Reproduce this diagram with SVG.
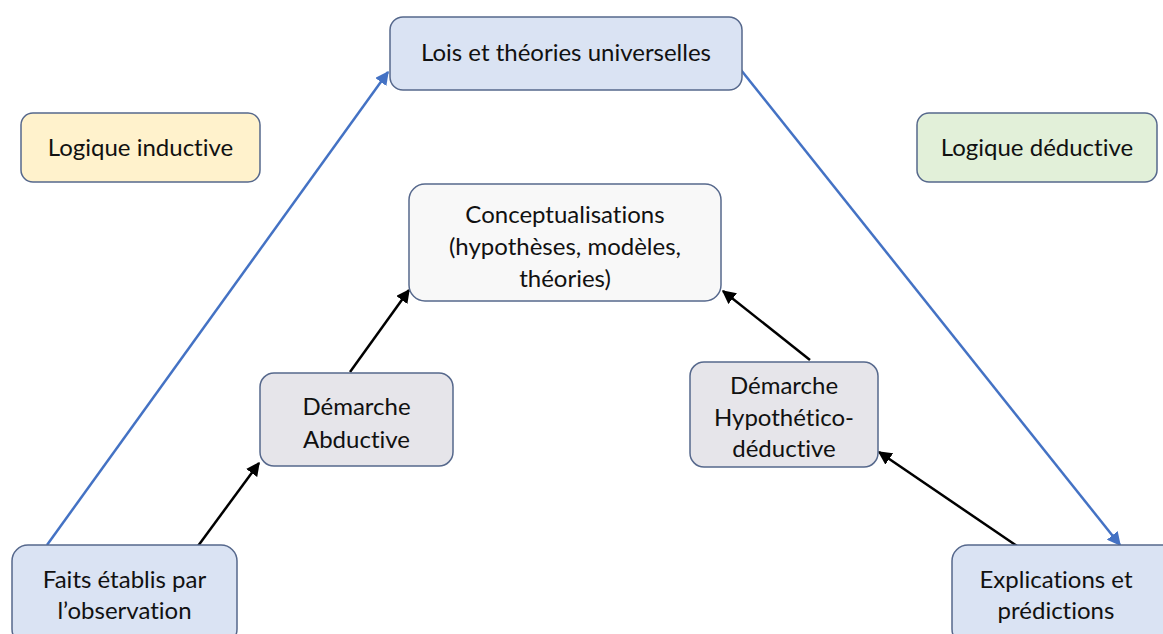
<svg xmlns="http://www.w3.org/2000/svg" width="1163" height="634" viewBox="0 0 1163 634">
<defs>
<style>
.box{stroke:#56688c;stroke-width:1.5}
.blue{fill:#dae3f3}
.yel{fill:#fff2cc}
.grn{fill:#e2f0d9}
.gry{fill:#e6e5ea}
.wht{fill:#f8f8f8}
text{font-family:Lato,"Liberation Sans",sans-serif;font-size:24px;fill:#111;text-anchor:middle;font-variant-ligatures:none}
.bl{stroke:#4472c4;stroke-width:2.5;fill:none}
.bk{stroke:#000;stroke-width:2.5;fill:none}
</style>
<marker id="ab" viewBox="0 0 10 10" refX="9" refY="5" markerWidth="5.5" markerHeight="5.5" orient="auto" markerUnits="strokeWidth"><path d="M0,0L10,5L0,10z" fill="#4472c4"/></marker>
<marker id="ak" viewBox="0 0 10 10" refX="9" refY="5" markerWidth="5.5" markerHeight="5.5" orient="auto" markerUnits="strokeWidth"><path d="M0,0L10,5L0,10z" fill="#000"/></marker>
</defs>
<g id="connectors">
<line class="bl" x1="47" y1="545" x2="388" y2="72" marker-end="url(#ab)"/>
<line class="bl" x1="741" y1="70" x2="1120" y2="545" marker-end="url(#ab)"/>
<line class="bk" x1="198" y1="546" x2="259" y2="463" marker-end="url(#ak)"/>
<line class="bk" x1="350" y1="372" x2="409" y2="290" marker-end="url(#ak)"/>
<line class="bk" x1="810" y1="360" x2="723" y2="291" marker-end="url(#ak)"/>
<line class="bk" x1="1017" y1="546" x2="879" y2="452" marker-end="url(#ak)"/>
</g>
<g id="lois"><rect class="box blue" x="390" y="17" width="352" height="73" rx="13"/><text x="566" y="61">Lois et théories universelles</text></g>
<g id="inductive"><rect class="box yel" x="21" y="113" width="239" height="69" rx="12"/><text x="140.5" y="156">Logique inductive</text></g>
<g id="deductive"><rect class="box grn" x="917" y="113" width="240" height="69" rx="12"/><text x="1037" y="156">Logique déductive</text></g>
<g id="concept"><rect class="box wht" x="409" y="184" width="312" height="117" rx="16"/><text x="565" y="223">Conceptualisations</text><text x="565" y="255">(hypothèses, modèles,</text><text x="565" y="287">théories)</text></g>
<g id="abductive"><rect class="box gry" x="260" y="373" width="193" height="93" rx="14"/><text x="356.5" y="415">Démarche</text><text x="356.5" y="448">Abductive</text></g>
<g id="hypo"><rect class="box gry" x="690" y="362" width="188" height="105" rx="14"/><text x="784" y="394">Démarche</text><text x="784" y="426">Hypothético-</text><text x="784" y="457">déductive</text></g>
<g id="faits"><rect class="box blue" x="12" y="545" width="225" height="100" rx="16"/><text x="124.5" y="588">Faits établis par</text><text x="124.5" y="619">l’observation</text></g>
<g id="explic"><rect class="box blue" x="952" y="545" width="225" height="100" rx="16"/><text x="1056" y="588">Explications et</text><text x="1056" y="619">prédictions</text></g>
</svg>
